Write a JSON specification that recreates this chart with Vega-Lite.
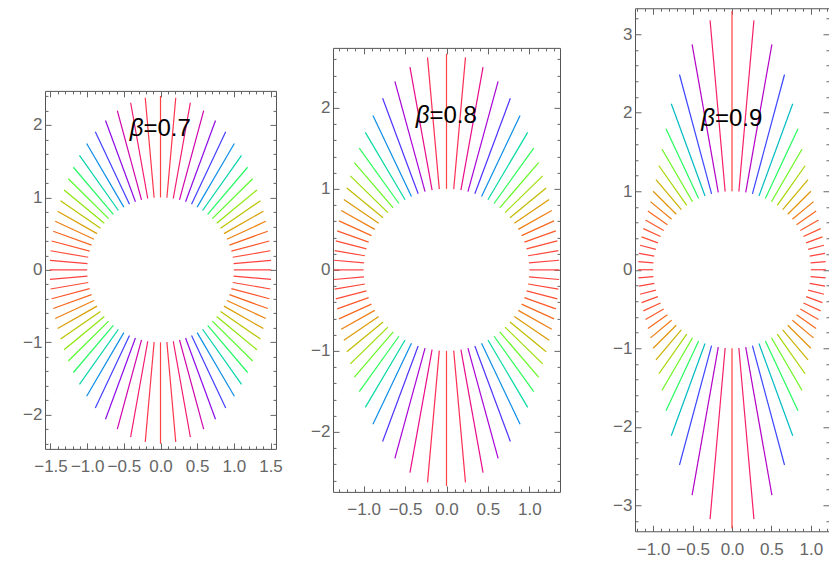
{
  "$schema": "https://vega.github.io/schema/vega-lite/v6.json",
  "padding": {"left": 22, "top": 7, "right": 0, "bottom": 0},
  "background": "white",
  "config": {
    "view": {"stroke": "#555555", "strokeWidth": 1},
    "axis": {"domain": false, "grid": false, "labelFont": "Liberation Sans", "labelFontSize": 17, "labelColor": "#666666", "tickColor": "#666666", "labelOverlap": false, "labelFlush": false, "labelBound": false},
    "axisX": {"labelPadding": 16},
    "axisY": {"labelPadding": 9}
  },
  "datasets": {
    "b7": [
      {"x":1,"y":0,"x2":1.51,"y2":0,"e":0.51},{"x":-1,"y":0,"x2":-1.51,"y2":0,"e":0.51},
      {"x":0,"y":1,"x2":0,"y2":2.4,"e":1.4},{"x":0,"y":-1,"x2":0,"y2":-2.4,"e":1.4},
      {"x":0.996,"y":0.087,"x2":1.507,"y2":0.132,"e":0.513},{"x":-0.996,"y":0.087,"x2":-1.507,"y2":0.132,"e":0.513},{"x":-0.996,"y":-0.087,"x2":-1.507,"y2":-0.132,"e":0.513},{"x":0.996,"y":-0.087,"x2":1.507,"y2":-0.132,"e":0.513},
      {"x":0.985,"y":0.174,"x2":1.499,"y2":0.264,"e":0.522},{"x":-0.985,"y":0.174,"x2":-1.499,"y2":0.264,"e":0.522},{"x":-0.985,"y":-0.174,"x2":-1.499,"y2":-0.264,"e":0.522},{"x":0.985,"y":-0.174,"x2":1.499,"y2":-0.264,"e":0.522},
      {"x":0.966,"y":0.259,"x2":1.484,"y2":0.398,"e":0.536},{"x":-0.966,"y":0.259,"x2":-1.484,"y2":0.398,"e":0.536},{"x":-0.966,"y":-0.259,"x2":-1.484,"y2":-0.398,"e":0.536},{"x":0.966,"y":-0.259,"x2":1.484,"y2":-0.398,"e":0.536},
      {"x":0.94,"y":0.342,"x2":1.463,"y2":0.533,"e":0.557},{"x":-0.94,"y":0.342,"x2":-1.463,"y2":0.533,"e":0.557},{"x":-0.94,"y":-0.342,"x2":-1.463,"y2":-0.533,"e":0.557},{"x":0.94,"y":-0.342,"x2":1.463,"y2":-0.533,"e":0.557},
      {"x":0.906,"y":0.423,"x2":1.436,"y2":0.67,"e":0.585},{"x":-0.906,"y":0.423,"x2":-1.436,"y2":0.67,"e":0.585},{"x":-0.906,"y":-0.423,"x2":-1.436,"y2":-0.67,"e":0.585},{"x":0.906,"y":-0.423,"x2":1.436,"y2":-0.67,"e":0.585},
      {"x":0.866,"y":0.5,"x2":1.403,"y2":0.81,"e":0.62},{"x":-0.866,"y":0.5,"x2":-1.403,"y2":0.81,"e":0.62},{"x":-0.866,"y":-0.5,"x2":-1.403,"y2":-0.81,"e":0.62},{"x":0.866,"y":-0.5,"x2":1.403,"y2":-0.81,"e":0.62},
      {"x":0.819,"y":0.574,"x2":1.363,"y2":0.954,"e":0.664},{"x":-0.819,"y":0.574,"x2":-1.363,"y2":0.954,"e":0.664},{"x":-0.819,"y":-0.574,"x2":-1.363,"y2":-0.954,"e":0.664},{"x":0.819,"y":-0.574,"x2":1.363,"y2":-0.954,"e":0.664},
      {"x":0.766,"y":0.643,"x2":1.315,"y2":1.103,"e":0.716},{"x":-0.766,"y":0.643,"x2":-1.315,"y2":1.103,"e":0.716},{"x":-0.766,"y":-0.643,"x2":-1.315,"y2":-1.103,"e":0.716},{"x":0.766,"y":-0.643,"x2":1.315,"y2":-1.103,"e":0.716},
      {"x":0.707,"y":0.707,"x2":1.257,"y2":1.257,"e":0.777},{"x":-0.707,"y":0.707,"x2":-1.257,"y2":1.257,"e":0.777},{"x":-0.707,"y":-0.707,"x2":-1.257,"y2":-1.257,"e":0.777},{"x":0.707,"y":-0.707,"x2":1.257,"y2":-1.257,"e":0.777},
      {"x":0.643,"y":0.766,"x2":1.188,"y2":1.416,"e":0.848},{"x":-0.643,"y":0.766,"x2":-1.188,"y2":1.416,"e":0.848},{"x":-0.643,"y":-0.766,"x2":-1.188,"y2":-1.416,"e":0.848},{"x":0.643,"y":-0.766,"x2":1.188,"y2":-1.416,"e":0.848},
      {"x":0.574,"y":0.819,"x2":1.105,"y2":1.579,"e":0.927},{"x":-0.574,"y":0.819,"x2":-1.105,"y2":1.579,"e":0.927},{"x":-0.574,"y":-0.819,"x2":-1.105,"y2":-1.579,"e":0.927},{"x":0.574,"y":-0.819,"x2":1.105,"y2":-1.579,"e":0.927},
      {"x":0.5,"y":0.866,"x2":1.007,"y2":1.744,"e":1.014},{"x":-0.5,"y":0.866,"x2":-1.007,"y2":1.744,"e":1.014},{"x":-0.5,"y":-0.866,"x2":-1.007,"y2":-1.744,"e":1.014},{"x":0.5,"y":-0.866,"x2":1.007,"y2":-1.744,"e":1.014},
      {"x":0.423,"y":0.906,"x2":0.889,"y2":1.907,"e":1.104},{"x":-0.423,"y":0.906,"x2":-0.889,"y2":1.907,"e":1.104},{"x":-0.423,"y":-0.906,"x2":-0.889,"y2":-1.907,"e":1.104},{"x":0.423,"y":-0.906,"x2":0.889,"y2":-1.907,"e":1.104},
      {"x":0.342,"y":0.94,"x2":0.75,"y2":2.062,"e":1.194},{"x":-0.342,"y":0.94,"x2":-0.75,"y2":2.062,"e":1.194},{"x":-0.342,"y":-0.94,"x2":-0.75,"y2":-2.062,"e":1.194},{"x":0.342,"y":-0.94,"x2":0.75,"y2":-2.062,"e":1.194},
      {"x":0.259,"y":0.966,"x2":0.589,"y2":2.197,"e":1.275},{"x":-0.259,"y":0.966,"x2":-0.589,"y2":2.197,"e":1.275},{"x":-0.259,"y":-0.966,"x2":-0.589,"y2":-2.197,"e":1.275},{"x":0.259,"y":-0.966,"x2":0.589,"y2":-2.197,"e":1.275},
      {"x":0.174,"y":0.985,"x2":0.407,"y2":2.306,"e":1.342},{"x":-0.174,"y":0.985,"x2":-0.407,"y2":2.306,"e":1.342},{"x":-0.174,"y":-0.985,"x2":-0.407,"y2":-2.306,"e":1.342},{"x":0.174,"y":-0.985,"x2":0.407,"y2":-2.306,"e":1.342},
      {"x":0.087,"y":0.996,"x2":0.208,"y2":2.376,"e":1.385},{"x":-0.087,"y":0.996,"x2":-0.208,"y2":2.376,"e":1.385},{"x":-0.087,"y":-0.996,"x2":-0.208,"y2":-2.376,"e":1.385},{"x":0.087,"y":-0.996,"x2":0.208,"y2":-2.376,"e":1.385}
    ],
    "b8": [
      {"x":1,"y":0,"x2":1.36,"y2":0,"e":0.36},{"x":-1,"y":0,"x2":-1.36,"y2":0,"e":0.36},
      {"x":0,"y":1,"x2":0,"y2":2.667,"e":1.667},{"x":0,"y":-1,"x2":0,"y2":-2.667,"e":1.667},
      {"x":0.996,"y":0.087,"x2":1.358,"y2":0.119,"e":0.363},{"x":-0.996,"y":0.087,"x2":-1.358,"y2":0.119,"e":0.363},{"x":-0.996,"y":-0.087,"x2":-1.358,"y2":-0.119,"e":0.363},{"x":0.996,"y":-0.087,"x2":1.358,"y2":-0.119,"e":0.363},
      {"x":0.985,"y":0.174,"x2":1.35,"y2":0.238,"e":0.371},{"x":-0.985,"y":0.174,"x2":-1.35,"y2":0.238,"e":0.371},{"x":-0.985,"y":-0.174,"x2":-1.35,"y2":-0.238,"e":0.371},{"x":0.985,"y":-0.174,"x2":1.35,"y2":-0.238,"e":0.371},
      {"x":0.966,"y":0.259,"x2":1.337,"y2":0.358,"e":0.384},{"x":-0.966,"y":0.259,"x2":-1.337,"y2":0.358,"e":0.384},{"x":-0.966,"y":-0.259,"x2":-1.337,"y2":-0.358,"e":0.384},{"x":0.966,"y":-0.259,"x2":1.337,"y2":-0.358,"e":0.384},
      {"x":0.94,"y":0.342,"x2":1.32,"y2":0.481,"e":0.405},{"x":-0.94,"y":0.342,"x2":-1.32,"y2":0.481,"e":0.405},{"x":-0.94,"y":-0.342,"x2":-1.32,"y2":-0.481,"e":0.405},{"x":0.94,"y":-0.342,"x2":1.32,"y2":-0.481,"e":0.405},
      {"x":0.906,"y":0.423,"x2":1.298,"y2":0.605,"e":0.432},{"x":-0.906,"y":0.423,"x2":-1.298,"y2":0.605,"e":0.432},{"x":-0.906,"y":-0.423,"x2":-1.298,"y2":-0.605,"e":0.432},{"x":0.906,"y":-0.423,"x2":1.298,"y2":-0.605,"e":0.432},
      {"x":0.866,"y":0.5,"x2":1.271,"y2":0.734,"e":0.468},{"x":-0.866,"y":0.5,"x2":-1.271,"y2":0.734,"e":0.468},{"x":-0.866,"y":-0.5,"x2":-1.271,"y2":-0.734,"e":0.468},{"x":0.866,"y":-0.5,"x2":1.271,"y2":-0.734,"e":0.468},
      {"x":0.819,"y":0.574,"x2":1.239,"y2":0.868,"e":0.513},{"x":-0.819,"y":0.574,"x2":-1.239,"y2":0.868,"e":0.513},{"x":-0.819,"y":-0.574,"x2":-1.239,"y2":-0.868,"e":0.513},{"x":0.819,"y":-0.574,"x2":1.239,"y2":-0.868,"e":0.513},
      {"x":0.766,"y":0.643,"x2":1.203,"y2":1.01,"e":0.571},{"x":-0.766,"y":0.643,"x2":-1.203,"y2":1.01,"e":0.571},{"x":-0.766,"y":-0.643,"x2":-1.203,"y2":-1.01,"e":0.571},{"x":0.766,"y":-0.643,"x2":1.203,"y2":-1.01,"e":0.571},
      {"x":0.707,"y":0.707,"x2":1.161,"y2":1.161,"e":0.642},{"x":-0.707,"y":0.707,"x2":-1.161,"y2":1.161,"e":0.642},{"x":-0.707,"y":-0.707,"x2":-1.161,"y2":-1.161,"e":0.642},{"x":0.707,"y":-0.707,"x2":1.161,"y2":-1.161,"e":0.642},
      {"x":0.643,"y":0.766,"x2":1.112,"y2":1.325,"e":0.73},{"x":-0.643,"y":0.766,"x2":-1.112,"y2":1.325,"e":0.73},{"x":-0.643,"y":-0.766,"x2":-1.112,"y2":-1.325,"e":0.73},{"x":0.643,"y":-0.766,"x2":1.112,"y2":-1.325,"e":0.73},
      {"x":0.574,"y":0.819,"x2":1.053,"y2":1.503,"e":0.835},{"x":-0.574,"y":0.819,"x2":-1.053,"y2":1.503,"e":0.835},{"x":-0.574,"y":-0.819,"x2":-1.053,"y2":-1.503,"e":0.835},{"x":0.574,"y":-0.819,"x2":1.053,"y2":-1.503,"e":0.835},
      {"x":0.5,"y":0.866,"x2":0.98,"y2":1.697,"e":0.96},{"x":-0.5,"y":0.866,"x2":-0.98,"y2":1.697,"e":0.96},{"x":-0.5,"y":-0.866,"x2":-0.98,"y2":-1.697,"e":0.96},{"x":0.5,"y":-0.866,"x2":0.98,"y2":-1.697,"e":0.96},
      {"x":0.423,"y":0.906,"x2":0.888,"y2":1.905,"e":1.102},{"x":-0.423,"y":0.906,"x2":-0.888,"y2":1.905,"e":1.102},{"x":-0.423,"y":-0.906,"x2":-0.888,"y2":-1.905,"e":1.102},{"x":0.423,"y":-0.906,"x2":0.888,"y2":-1.905,"e":1.102},
      {"x":0.342,"y":0.94,"x2":0.771,"y2":2.119,"e":1.255},{"x":-0.342,"y":0.94,"x2":-0.771,"y2":2.119,"e":1.255},{"x":-0.342,"y":-0.94,"x2":-0.771,"y2":-2.119,"e":1.255},{"x":0.342,"y":-0.94,"x2":0.771,"y2":-2.119,"e":1.255},
      {"x":0.259,"y":0.966,"x2":0.623,"y2":2.326,"e":1.408},{"x":-0.259,"y":0.966,"x2":-0.623,"y2":2.326,"e":1.408},{"x":-0.259,"y":-0.966,"x2":-0.623,"y2":-2.326,"e":1.408},{"x":0.259,"y":-0.966,"x2":0.623,"y2":-2.326,"e":1.408},
      {"x":0.174,"y":0.985,"x2":0.441,"y2":2.502,"e":1.541},{"x":-0.174,"y":0.985,"x2":-0.441,"y2":2.502,"e":1.541},{"x":-0.174,"y":-0.985,"x2":-0.441,"y2":-2.502,"e":1.541},{"x":0.174,"y":-0.985,"x2":0.441,"y2":-2.502,"e":1.541},
      {"x":0.087,"y":0.996,"x2":0.229,"y2":2.623,"e":1.633},{"x":-0.087,"y":0.996,"x2":-0.229,"y2":2.623,"e":1.633},{"x":-0.087,"y":-0.996,"x2":-0.229,"y2":-2.623,"e":1.633},{"x":0.087,"y":-0.996,"x2":0.229,"y2":-2.623,"e":1.633}
    ],
    "b9": [
      {"x":1,"y":0,"x2":1.19,"y2":0,"e":0.19},{"x":-1,"y":0,"x2":-1.19,"y2":0,"e":0.19},
      {"x":0,"y":1,"x2":0,"y2":3.294,"e":2.294},{"x":0,"y":-1,"x2":0,"y2":-3.294,"e":2.294},
      {"x":0.996,"y":0.087,"x2":1.187,"y2":0.104,"e":0.192},{"x":-0.996,"y":0.087,"x2":-1.187,"y2":0.104,"e":0.192},{"x":-0.996,"y":-0.087,"x2":-1.187,"y2":-0.104,"e":0.192},{"x":0.996,"y":-0.087,"x2":1.187,"y2":-0.104,"e":0.192},
      {"x":0.985,"y":0.174,"x2":1.179,"y2":0.208,"e":0.197},{"x":-0.985,"y":0.174,"x2":-1.179,"y2":0.208,"e":0.197},{"x":-0.985,"y":-0.174,"x2":-1.179,"y2":-0.208,"e":0.197},{"x":0.985,"y":-0.174,"x2":1.179,"y2":-0.208,"e":0.197},
      {"x":0.966,"y":0.259,"x2":1.166,"y2":0.312,"e":0.207},{"x":-0.966,"y":0.259,"x2":-1.166,"y2":0.312,"e":0.207},{"x":-0.966,"y":-0.259,"x2":-1.166,"y2":-0.312,"e":0.207},{"x":0.966,"y":-0.259,"x2":1.166,"y2":-0.312,"e":0.207},
      {"x":0.94,"y":0.342,"x2":1.147,"y2":0.418,"e":0.221},{"x":-0.94,"y":0.342,"x2":-1.147,"y2":0.418,"e":0.221},{"x":-0.94,"y":-0.342,"x2":-1.147,"y2":-0.418,"e":0.221},{"x":0.94,"y":-0.342,"x2":1.147,"y2":-0.418,"e":0.221},
      {"x":0.906,"y":0.423,"x2":1.124,"y2":0.524,"e":0.24},{"x":-0.906,"y":0.423,"x2":-1.124,"y2":0.524,"e":0.24},{"x":-0.906,"y":-0.423,"x2":-1.124,"y2":-0.524,"e":0.24},{"x":0.906,"y":-0.423,"x2":1.124,"y2":-0.524,"e":0.24},
      {"x":0.866,"y":0.5,"x2":1.097,"y2":0.634,"e":0.267},{"x":-0.866,"y":0.5,"x2":-1.097,"y2":0.634,"e":0.267},{"x":-0.866,"y":-0.5,"x2":-1.097,"y2":-0.634,"e":0.267},{"x":0.866,"y":-0.5,"x2":1.097,"y2":-0.634,"e":0.267},
      {"x":0.819,"y":0.574,"x2":1.067,"y2":0.747,"e":0.302},{"x":-0.819,"y":0.574,"x2":-1.067,"y2":0.747,"e":0.302},{"x":-0.819,"y":-0.574,"x2":-1.067,"y2":-0.747,"e":0.302},{"x":0.819,"y":-0.574,"x2":1.067,"y2":-0.747,"e":0.302},
      {"x":0.766,"y":0.643,"x2":1.034,"y2":0.868,"e":0.35},{"x":-0.766,"y":0.643,"x2":-1.034,"y2":0.868,"e":0.35},{"x":-0.766,"y":-0.643,"x2":-1.034,"y2":-0.868,"e":0.35},{"x":0.766,"y":-0.643,"x2":1.034,"y2":-0.868,"e":0.35},
      {"x":0.707,"y":0.707,"x2":1,"y2":1,"e":0.414},{"x":-0.707,"y":0.707,"x2":-1,"y2":1,"e":0.414},{"x":-0.707,"y":-0.707,"x2":-1,"y2":-1,"e":0.414},{"x":0.707,"y":-0.707,"x2":1,"y2":-1,"e":0.414},
      {"x":0.643,"y":0.766,"x2":0.964,"y2":1.149,"e":0.5},{"x":-0.643,"y":0.766,"x2":-0.964,"y2":1.149,"e":0.5},{"x":-0.643,"y":-0.766,"x2":-0.964,"y2":-1.149,"e":0.5},{"x":0.643,"y":-0.766,"x2":0.964,"y2":-1.149,"e":0.5},
      {"x":0.574,"y":0.819,"x2":0.927,"y2":1.324,"e":0.616},{"x":-0.574,"y":0.819,"x2":-0.927,"y2":1.324,"e":0.616},{"x":-0.574,"y":-0.819,"x2":-0.927,"y2":-1.324,"e":0.616},{"x":0.574,"y":-0.819,"x2":0.927,"y2":-1.324,"e":0.616},
      {"x":0.5,"y":0.866,"x2":0.887,"y2":1.535,"e":0.773},{"x":-0.5,"y":0.866,"x2":-0.887,"y2":1.535,"e":0.773},{"x":-0.5,"y":-0.866,"x2":-0.887,"y2":-1.535,"e":0.773},{"x":0.5,"y":-0.866,"x2":0.887,"y2":-1.535,"e":0.773},
      {"x":0.423,"y":0.906,"x2":0.837,"y2":1.795,"e":0.981},{"x":-0.423,"y":0.906,"x2":-0.837,"y2":1.795,"e":0.981},{"x":-0.423,"y":-0.906,"x2":-0.837,"y2":-1.795,"e":0.981},{"x":0.423,"y":-0.906,"x2":0.837,"y2":-1.795,"e":0.981},
      {"x":0.342,"y":0.94,"x2":0.77,"y2":2.114,"e":1.25},{"x":-0.342,"y":0.94,"x2":-0.77,"y2":2.114,"e":1.25},{"x":-0.342,"y":-0.94,"x2":-0.77,"y2":-2.114,"e":1.25},{"x":0.342,"y":-0.94,"x2":0.77,"y2":-2.114,"e":1.25},
      {"x":0.259,"y":0.966,"x2":0.666,"y2":2.486,"e":1.574},{"x":-0.259,"y":0.966,"x2":-0.666,"y2":2.486,"e":1.574},{"x":-0.259,"y":-0.966,"x2":-0.666,"y2":-2.486,"e":1.574},{"x":0.259,"y":-0.966,"x2":0.666,"y2":-2.486,"e":1.574},
      {"x":0.174,"y":0.985,"x2":0.506,"y2":2.87,"e":1.914},{"x":-0.174,"y":0.985,"x2":-0.506,"y2":2.87,"e":1.914},{"x":-0.174,"y":-0.985,"x2":-0.506,"y2":-2.87,"e":1.914},{"x":0.174,"y":-0.985,"x2":0.506,"y2":-2.87,"e":1.914},
      {"x":0.087,"y":0.996,"x2":0.278,"y2":3.175,"e":2.187},{"x":-0.087,"y":0.996,"x2":-0.278,"y2":3.175,"e":2.187},{"x":-0.087,"y":-0.996,"x2":-0.278,"y2":-3.175,"e":2.187},{"x":0.087,"y":-0.996,"x2":0.278,"y2":-3.175,"e":2.187}
    ]
  },
  "hconcat": [
    {
      "hconcat": [
        {
          "width": 231, "height": 358,
          "data": {"name": "b7"},
          "layer": [
            {
              "mark": {"type": "rule", "strokeWidth": 1.2},
              "encoding": {
                "x": {"field": "x", "type": "quantitative", "scale": {"domain": [-1.575, 1.575], "nice": false, "zero": false},
                      "axis": {"orient": "bottom", "title": null, "values": [-1.5,-1.4,-1.3,-1.2,-1.1,-1,-0.9,-0.8,-0.7,-0.6,-0.5,-0.4,-0.3,-0.2,-0.1,0,0.1,0.2,0.3,0.4,0.5,0.6,0.7,0.8,0.9,1,1.1,1.2,1.3,1.4,1.5],
                               "labelExpr": "abs(datum.value*2-round(datum.value*2))<0.001 ? format(datum.value,'.1f') : ''",
                               "tickSize": {"condition": {"test": "abs(datum.value*2-round(datum.value*2))<0.001", "value": -6}, "value": -3}}},
                "y": {"field": "y", "type": "quantitative", "scale": {"domain": [-2.47, 2.47], "nice": false, "zero": false},
                      "axis": {"orient": "left", "title": null, "values": [-2.4,-2.2,-2,-1.8,-1.6,-1.4,-1.2,-1,-0.8,-0.6,-0.4,-0.2,0,0.2,0.4,0.6,0.8,1,1.2,1.4,1.6,1.8,2,2.2,2.4],
                               "labelExpr": "abs(datum.value-round(datum.value))<0.001 ? format(datum.value,'d') : ''",
                               "tickSize": {"condition": {"test": "abs(datum.value-round(datum.value))<0.001", "value": -6}, "value": -3}}},
                "x2": {"field": "x2"}, "y2": {"field": "y2"},
                "color": {"field": "e", "type": "quantitative", "scale": {"scheme": "sinebow", "domain": [0.51, 1.4]}, "legend": null}
              }
            },
            {
              "mark": {"type": "point", "opacity": 0},
              "encoding": {
                "x": {"field": "x", "type": "quantitative",
                      "axis": {"orient": "top", "title": null, "labels": false, "values": [-1.5,-1.4,-1.3,-1.2,-1.1,-1,-0.9,-0.8,-0.7,-0.6,-0.5,-0.4,-0.3,-0.2,-0.1,0,0.1,0.2,0.3,0.4,0.5,0.6,0.7,0.8,0.9,1,1.1,1.2,1.3,1.4,1.5],
                               "tickSize": {"condition": {"test": "abs(datum.value*2-round(datum.value*2))<0.001", "value": -6}, "value": -3}}},
                "y": {"field": "y", "type": "quantitative",
                      "axis": {"orient": "right", "title": null, "labels": false, "values": [-2.4,-2.2,-2,-1.8,-1.6,-1.4,-1.2,-1,-0.8,-0.6,-0.4,-0.2,0,0.2,0.4,0.6,0.8,1,1.2,1.4,1.6,1.8,2,2.2,2.4],
                               "tickSize": {"condition": {"test": "abs(datum.value-round(datum.value))<0.001", "value": -6}, "value": -3}}}
              }
            },
            {
              "data": {"values": [{"t": "β"}]},
              "mark": {"type": "text", "font": "Liberation Sans", "fontSize": 24, "fontStyle": "italic", "align": "right", "baseline": "middle", "dx": -17, "color": "black"},
              "encoding": {"x": {"datum": 0, "type": "quantitative", "axis": null}, "y": {"datum": 1.95, "type": "quantitative", "axis": null}, "text": {"field": "t"}}
            },
            {
              "data": {"values": [{"t": "=0.7"}]},
              "mark": {"type": "text", "font": "Liberation Sans", "fontSize": 24, "align": "left", "baseline": "middle", "dx": -17, "color": "black"},
              "encoding": {"x": {"datum": 0, "type": "quantitative", "axis": null}, "y": {"datum": 1.95, "type": "quantitative", "axis": null}, "text": {"field": "t"}}
            }
          ],
          "resolve": {"axis": {"x": "independent", "y": "independent"}}
        },
        {
          "width": 227, "height": 444,
          "data": {"name": "b8"},
          "layer": [
            {
              "mark": {"type": "rule", "strokeWidth": 1.2},
              "encoding": {
                "x": {"field": "x", "type": "quantitative", "scale": {"domain": [-1.37, 1.37], "nice": false, "zero": false},
                      "axis": {"orient": "bottom", "title": null, "values": [-1.3,-1.2,-1.1,-1,-0.9,-0.8,-0.7,-0.6,-0.5,-0.4,-0.3,-0.2,-0.1,0,0.1,0.2,0.3,0.4,0.5,0.6,0.7,0.8,0.9,1,1.1,1.2,1.3],
                               "labelExpr": "abs(datum.value*2-round(datum.value*2))<0.001 ? format(datum.value,'.1f') : ''",
                               "tickSize": {"condition": {"test": "abs(datum.value*2-round(datum.value*2))<0.001", "value": -6}, "value": -3}}},
                "y": {"field": "y", "type": "quantitative", "scale": {"domain": [-2.74, 2.74], "nice": false, "zero": false},
                      "axis": {"orient": "left", "title": null, "values": [-2.6,-2.4,-2.2,-2,-1.8,-1.6,-1.4,-1.2,-1,-0.8,-0.6,-0.4,-0.2,0,0.2,0.4,0.6,0.8,1,1.2,1.4,1.6,1.8,2,2.2,2.4,2.6],
                               "labelExpr": "abs(datum.value-round(datum.value))<0.001 ? format(datum.value,'d') : ''",
                               "tickSize": {"condition": {"test": "abs(datum.value-round(datum.value))<0.001", "value": -6}, "value": -3}}},
                "x2": {"field": "x2"}, "y2": {"field": "y2"},
                "color": {"field": "e", "type": "quantitative", "scale": {"scheme": "sinebow", "domain": [0.36, 1.667]}, "legend": null}
              }
            },
            {
              "mark": {"type": "point", "opacity": 0},
              "encoding": {
                "x": {"field": "x", "type": "quantitative",
                      "axis": {"orient": "top", "title": null, "labels": false, "values": [-1.3,-1.2,-1.1,-1,-0.9,-0.8,-0.7,-0.6,-0.5,-0.4,-0.3,-0.2,-0.1,0,0.1,0.2,0.3,0.4,0.5,0.6,0.7,0.8,0.9,1,1.1,1.2,1.3],
                               "tickSize": {"condition": {"test": "abs(datum.value*2-round(datum.value*2))<0.001", "value": -6}, "value": -3}}},
                "y": {"field": "y", "type": "quantitative",
                      "axis": {"orient": "right", "title": null, "labels": false, "values": [-2.6,-2.4,-2.2,-2,-1.8,-1.6,-1.4,-1.2,-1,-0.8,-0.6,-0.4,-0.2,0,0.2,0.4,0.6,0.8,1,1.2,1.4,1.6,1.8,2,2.2,2.4,2.6],
                               "tickSize": {"condition": {"test": "abs(datum.value-round(datum.value))<0.001", "value": -6}, "value": -3}}}
              }
            },
            {
              "data": {"values": [{"t": "β"}]},
              "mark": {"type": "text", "font": "Liberation Sans", "fontSize": 24, "fontStyle": "italic", "align": "right", "baseline": "middle", "dx": -17, "color": "black"},
              "encoding": {"x": {"datum": 0, "type": "quantitative", "axis": null}, "y": {"datum": 1.9, "type": "quantitative", "axis": null}, "text": {"field": "t"}}
            },
            {
              "data": {"values": [{"t": "=0.8"}]},
              "mark": {"type": "text", "font": "Liberation Sans", "fontSize": 24, "align": "left", "baseline": "middle", "dx": -17, "color": "black"},
              "encoding": {"x": {"datum": 0, "type": "quantitative", "axis": null}, "y": {"datum": 1.9, "type": "quantitative", "axis": null}, "text": {"field": "t"}}
            }
          ],
          "resolve": {"axis": {"x": "independent", "y": "independent"}}
        }
      ],
      "spacing": 27,
      "center": true,
      "resolve": {"scale": {"color": "independent"}}
    },
    {
      "width": 194, "height": 523,
      "data": {"name": "b9"},
      "layer": [
        {
          "mark": {"type": "rule", "strokeWidth": 1.2},
          "encoding": {
            "x": {"field": "x", "type": "quantitative", "scale": {"domain": [-1.23, 1.23], "nice": false, "zero": false},
                  "axis": {"orient": "bottom", "title": null, "values": [-1.2,-1.1,-1,-0.9,-0.8,-0.7,-0.6,-0.5,-0.4,-0.3,-0.2,-0.1,0,0.1,0.2,0.3,0.4,0.5,0.6,0.7,0.8,0.9,1,1.1,1.2],
                           "labelExpr": "abs(datum.value*2-round(datum.value*2))<0.001 ? format(datum.value,'.1f') : ''",
                           "tickSize": {"condition": {"test": "abs(datum.value*2-round(datum.value*2))<0.001", "value": -6}, "value": -3}}},
            "y": {"field": "y", "type": "quantitative", "scale": {"domain": [-3.33, 3.33], "nice": false, "zero": false},
                  "axis": {"orient": "left", "title": null, "values": [-3.2,-3,-2.8,-2.6,-2.4,-2.2,-2,-1.8,-1.6,-1.4,-1.2,-1,-0.8,-0.6,-0.4,-0.2,0,0.2,0.4,0.6,0.8,1,1.2,1.4,1.6,1.8,2,2.2,2.4,2.6,2.8,3,3.2],
                           "labelExpr": "abs(datum.value-round(datum.value))<0.001 ? format(datum.value,'d') : ''",
                           "tickSize": {"condition": {"test": "abs(datum.value-round(datum.value))<0.001", "value": -6}, "value": -3}}},
            "x2": {"field": "x2"}, "y2": {"field": "y2"},
            "color": {"field": "e", "type": "quantitative", "scale": {"scheme": "sinebow", "domain": [0.19, 2.294]}, "legend": null}
          }
        },
        {
          "mark": {"type": "point", "opacity": 0},
          "encoding": {
            "x": {"field": "x", "type": "quantitative",
                  "axis": {"orient": "top", "title": null, "labels": false, "values": [-1.2,-1.1,-1,-0.9,-0.8,-0.7,-0.6,-0.5,-0.4,-0.3,-0.2,-0.1,0,0.1,0.2,0.3,0.4,0.5,0.6,0.7,0.8,0.9,1,1.1,1.2],
                           "tickSize": {"condition": {"test": "abs(datum.value*2-round(datum.value*2))<0.001", "value": -6}, "value": -3}}},
            "y": {"field": "y", "type": "quantitative",
                  "axis": {"orient": "right", "title": null, "labels": false, "values": [-3.2,-3,-2.8,-2.6,-2.4,-2.2,-2,-1.8,-1.6,-1.4,-1.2,-1,-0.8,-0.6,-0.4,-0.2,0,0.2,0.4,0.6,0.8,1,1.2,1.4,1.6,1.8,2,2.2,2.4,2.6,2.8,3,3.2],
                           "tickSize": {"condition": {"test": "abs(datum.value-round(datum.value))<0.001", "value": -6}, "value": -3}}}
          }
        },
        {
          "data": {"values": [{"t": "β"}]},
          "mark": {"type": "text", "font": "Liberation Sans", "fontSize": 24, "fontStyle": "italic", "align": "right", "baseline": "middle", "dx": -17, "color": "black"},
          "encoding": {"x": {"datum": 0, "type": "quantitative", "axis": null}, "y": {"datum": 1.92, "type": "quantitative", "axis": null}, "text": {"field": "t"}}
        },
        {
          "data": {"values": [{"t": "=0.9"}]},
          "mark": {"type": "text", "font": "Liberation Sans", "fontSize": 24, "align": "left", "baseline": "middle", "dx": -17, "color": "black"},
          "encoding": {"x": {"datum": 0, "type": "quantitative", "axis": null}, "y": {"datum": 1.92, "type": "quantitative", "axis": null}, "text": {"field": "t"}}
        }
      ],
      "resolve": {"axis": {"x": "independent", "y": "independent"}}
    }
  ],
  "spacing": 51,
  "center": true,
  "resolve": {"scale": {"color": "independent"}}
}
